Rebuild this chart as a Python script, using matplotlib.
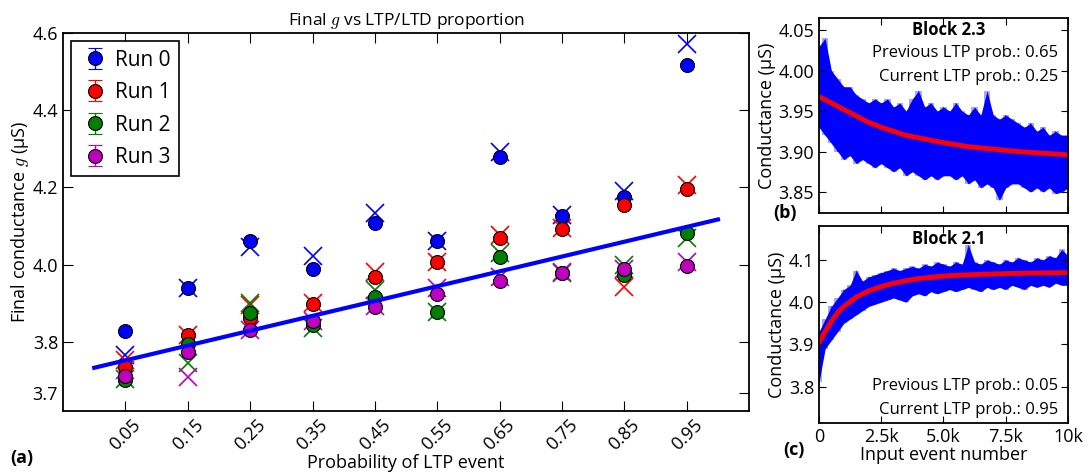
import numpy as np
import matplotlib.pyplot as plt

plt.rcParams['font.family'] = ['Open Sans', 'DejaVu Sans']
plt.rcParams['mathtext.fontset'] = 'cm'
plt.rcParams['xtick.direction'] = 'in'
plt.rcParams['ytick.direction'] = 'in'

# final conductance per LTP probability, one list per run (circles = measured, crosses = predicted)
prob = [0.05, 0.15, 0.25, 0.35, 0.45, 0.55, 0.65, 0.75, 0.85, 0.95]
runs = ["Run 0", "Run 1", "Run 2", "Run 3"]
colors = ["b", "r", "g", "m"]
g_meas = [
    [3.829, 3.939, 4.060, 3.989, 4.107, 4.061, 4.278, 4.127, 4.176, 4.517],
    [3.736, 3.818, 3.861, 3.897, 3.969, 4.006, 4.070, 4.092, 4.155, 4.196],
    [3.701, 3.795, 3.874, 3.844, 3.917, 3.877, 4.019, 3.978, 3.973, 4.081],
    [3.711, 3.775, 3.831, 3.853, 3.891, 3.924, 3.958, 3.978, 3.988, 3.997],
]
g_err = [
    [0.004] * 10,
    [0.004] * 10,
    [0.004] * 10,
    [0.004] * 10,
]
g_pred = [
    [3.766, 3.940, 4.045, 4.023, 4.133, 4.061, 4.293, 4.129, 4.192, 4.572],
    [3.753, 3.818, 3.896, 3.900, 3.982, 4.006, 4.077, 4.096, 3.942, 4.206],
    [3.703, 3.746, 3.900, 3.836, 3.935, 3.877, 4.030, 3.978, 3.999, 4.068],
    [3.727, 3.710, 3.830, 3.855, 3.893, 3.940, 3.969, 3.980, 3.990, 4.008],
]
fit_p = [0.0, 1.0]
fit_g = [3.733, 4.117]

# conductance traces, binned envelope every 250 events
ev = list(range(0, 10001, 250))
b_hi = [4.030, 4.040, 4.000, 3.990, 3.980, 3.980, 3.970, 3.965, 3.960, 3.965, 3.960,
        3.965, 3.955, 3.960, 3.950, 3.965, 3.975, 3.955, 3.960, 3.950, 3.955,
        3.950, 3.960, 3.950, 3.945, 3.955, 3.945, 3.975, 3.945, 3.940, 3.945,
        3.940, 3.935, 3.930, 3.935, 3.925, 3.930, 3.920, 3.925, 3.920, 3.920]
b_lo = [3.930, 3.920, 3.910, 3.900, 3.890, 3.895, 3.885, 3.890, 3.885, 3.880, 3.885,
        3.880, 3.875, 3.880, 3.870, 3.875, 3.870, 3.865, 3.870, 3.865, 3.870,
        3.870, 3.865, 3.870, 3.860, 3.865, 3.855, 3.860, 3.855, 3.840, 3.855,
        3.860, 3.860, 3.855, 3.850, 3.855, 3.850, 3.855, 3.848, 3.850, 3.855]
c_hi = [3.930, 3.960, 3.990, 4.010, 4.030, 4.040, 4.075, 4.050, 4.060, 4.065, 4.070,
        4.075, 4.080, 4.075, 4.080, 4.085, 4.080, 4.090, 4.085, 4.095, 4.090,
        4.085, 4.095, 4.090, 4.135, 4.095, 4.090, 4.100, 4.095, 4.090, 4.100,
        4.095, 4.105, 4.100, 4.095, 4.105, 4.100, 4.110, 4.105, 4.125, 4.110]
c_lo = [3.810, 3.890, 3.910, 3.930, 3.950, 3.960, 3.970, 3.980, 3.990, 3.995, 4.000,
        4.005, 4.010, 4.005, 4.000, 4.015, 4.020, 4.015, 4.025, 4.020, 4.025,
        4.030, 4.025, 4.030, 4.035, 4.030, 4.025, 4.035, 4.030, 4.035, 4.030,
        4.040, 4.035, 4.030, 4.040, 4.035, 4.040, 4.035, 4.045, 4.040, 4.040]

# exponential fits to each trace
b_fit_ev = [0, 500, 1000, 1500, 2000, 2500, 3000, 3500, 4000, 5000, 6000, 7000, 8000, 9000, 10000]
b_fit = [3.968, 3.960, 3.952, 3.944, 3.936, 3.930, 3.925, 3.920, 3.917, 3.911, 3.906,
         3.903, 3.900, 3.898, 3.896]
c_fit_ev = [0, 250, 500, 750, 1000, 1500, 2000, 2500, 3000, 3500, 4000, 5000, 6000,
            7000, 8500, 10000]
c_fit = [3.904, 3.930, 3.955, 3.975, 3.990, 4.012, 4.027, 4.037, 4.045, 4.051, 4.056,
         4.062, 4.065, 4.067, 4.069, 4.070]

fig = plt.figure(figsize=(10.89, 4.72), dpi=100)
ax = fig.add_axes([0.0579, 0.1292, 0.630, 0.801])
axb = fig.add_axes([0.752, 0.5487, 0.2287, 0.413])
axc = fig.add_axes([0.752, 0.1038, 0.2287, 0.417])

# (a) final conductance vs probability
for i in range(len(runs)):
    ax.plot(prob, g_pred[i], "x", color=colors[i], ms=13, mew=1.2, zorder=2)
for i in range(len(runs)):
    ax.errorbar(prob, g_meas[i], yerr=g_err[i], fmt="o", color=colors[i], ms=10,
                mec="k", mew=0.8, ecolor=colors[i], elinewidth=1, capsize=5,
                label=runs[i], zorder=3)
ax.plot(fit_p, fit_g, "b-", lw=3, zorder=4)
ax.set_xlim(-0.05, 1.05)
ax.set_ylim(3.621, 4.6)
ax.set_xticks(prob)
ax.set_xticklabels([f"{p:.2f}" for p in prob], rotation=45, fontsize=13)
ax.set_yticks([3.668, 3.8, 4.0, 4.2, 4.4, 4.6])
ax.set_yticklabels(["3.7", "3.8", "4.0", "4.2", "4.4", "4.6"], fontsize=13)
t0 = ax.yaxis.get_major_ticks()[0]
t0.tick1line.set_visible(False)
t0.tick2line.set_visible(False)
ax.tick_params(top=True, right=True, length=7)
ax.set_title("Final $g$ vs LTP/LTD proportion", fontsize=12.5)
ax.set_xlabel("Probability of LTP event", fontsize=13, labelpad=0)
ax.set_ylabel("Final conductance $g$ (μS)", fontsize=13, labelpad=1)
leg = ax.legend(loc="upper left", numpoints=1, fontsize=15, fancybox=False,
                edgecolor="k", framealpha=1, handletextpad=0.2,
                borderaxespad=0.4, labelspacing=0.55, handlelength=1.5)
leg.get_frame().set_linewidth(1.2)

# (b) and (c) conductance traces with exponential fits
for a, hi, lo, fx, fit in [(axb, b_hi, b_lo, b_fit_ev, b_fit),
                           (axc, c_hi, c_lo, c_fit_ev, c_fit)]:
    a.fill_between(ev, lo, hi, step="mid", color="b", lw=0, alpha=0.35)
    a.fill_between(ev, lo, hi, color="b", lw=0)
    zz = [hi[k] if k % 2 == 0 else lo[k] for k in range(len(ev))]
    a.plot(ev, zz, color="b", lw=0.6, alpha=0.6)
    a.plot(fx, fit, "r-", lw=3.5, solid_joinstyle="round")
    a.set_xlim(0, 10000)
    a.tick_params(top=True, right=True, length=5, labelsize=13)
    a.set_xticks([0, 2500, 5000, 7500, 10000])
    a.set_ylabel("Conductance (μS)", fontsize=13, labelpad=2)

axb.set_ylim(3.824, 4.065)
axb.set_yticks([3.85, 3.90, 3.95, 4.00, 4.05])
axb.set_yticklabels(["3.85", "3.90", "3.95", "4.00", "4.05"])
axb.set_xticklabels([])
axb.text(0.52, 0.94, "Block 2.3", transform=axb.transAxes, ha="center", va="center",
         fontsize=12, fontweight="bold")
axb.text(0.96, 0.82, "Previous LTP prob.: 0.65", transform=axb.transAxes,
         ha="right", va="center", fontsize=12)
axb.text(0.96, 0.70, "Current LTP prob.: 0.25", transform=axb.transAxes,
         ha="right", va="center", fontsize=12)

axc.set_ylim(3.714, 4.18)
axc.set_yticks([3.8, 3.9, 4.0, 4.1])
axc.set_xticklabels(["0", "2.5k", "5.0k", "7.5k", "10k"])
axc.set_xlabel("Input event number", fontsize=13, labelpad=0)
axc.text(0.52, 0.934, "Block 2.1", transform=axc.transAxes, ha="center", va="center",
         fontsize=12, fontweight="bold")
axc.text(0.96, 0.19, "Previous LTP prob.: 0.05", transform=axc.transAxes,
         ha="right", va="center", fontsize=12)
axc.text(0.96, 0.066, "Current LTP prob.: 0.95", transform=axc.transAxes,
         ha="right", va="center", fontsize=12)

for a in (ax, axb, axc):
    for s in a.spines.values():
        s.set_linewidth(1.3)

fig.text(10 / 1089, 1 - 458 / 472, "(a)", fontsize=13, fontweight="bold", va="center")
fig.text(773 / 1089, 1 - 213 / 472, "(b)", fontsize=13, fontweight="bold", va="center")
fig.text(783 / 1089, 1 - 450 / 472, "(c)", fontsize=13, fontweight="bold", va="center")

fig.savefig("out.png", dpi=100)
